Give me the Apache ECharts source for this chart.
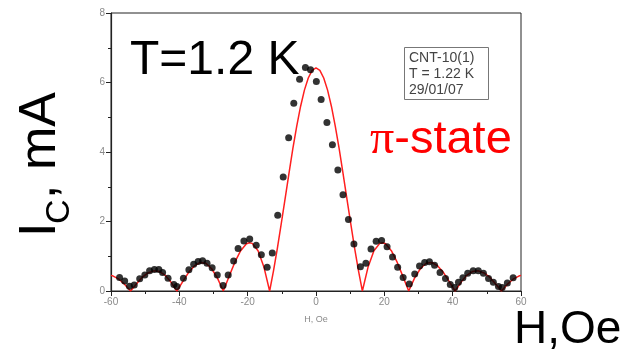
<!DOCTYPE html>
<html>
<head>
<meta charset="utf-8">
<script src="https://cdn.jsdelivr.net/npm/echarts@6/dist/echarts.min.js"></script>
<style>
  html, body { margin: 0; padding: 0; background: #fff; }
  #chart { width: 642px; height: 354px; }
</style>
</head>
<body>
<div id="chart"></div>
<script>
// Fraunhofer-like fit curve: field (Oe) and critical current (mA)
const fitField = [
  -60, -59.37, -57.67, -55.98, -54.28, -52.58, -50.89, -49.19, -47.50, -45.80, -44.10, -42.41,
  -40.71, -39.01, -37.32, -35.62, -33.93, -32.23, -30.53, -28.84, -27.14, -25.44, -23.75, -22.05,
  -20.36, -19.51, -18.66, -16.96, -15.27, -13.57, -12.44, -11.31, -10.18, -9.05, -7.92, -6.79,
  -5.65, -4.52, -3.39, -2.26, -1.13, 0, 1.13, 2.26, 3.39, 4.52, 5.65, 6.79, 7.92, 9.05, 10.18,
  11.31, 12.44, 13.57, 15.27, 16.96, 18.66, 19.51, 20.36, 22.05, 23.75, 25.44, 27.14, 28.84,
  30.53, 32.23, 33.93, 35.62, 37.32, 39.01, 40.71, 42.41, 44.10, 45.80, 47.50, 49.19, 50.89,
  52.58, 54.28, 55.98, 57.67, 59.37, 60
];
const fitIc = [
  0.45, 0.43, 0.34, 0.19, 0, 0.20, 0.39, 0.52, 0.58, 0.56, 0.45, 0.25,
  0, 0.27, 0.53, 0.72, 0.82, 0.80, 0.64, 0.37, 0, 0.42, 0.83, 1.16,
  1.36, 1.39, 1.37, 1.16, 0.70, 0, 0.58, 1.23, 1.93, 2.65, 3.38, 4.09,
  4.74, 5.31, 5.78, 6.13, 6.35, 6.42, 6.35, 6.13, 5.78, 5.31, 4.74, 4.09, 3.38, 2.65, 1.93,
  1.23, 0.58, 0, 0.70, 1.16, 1.37, 1.39, 1.36, 1.16, 0.83, 0.42, 0, 0.37,
  0.64, 0.80, 0.82, 0.72, 0.53, 0.27, 0, 0.25, 0.45, 0.56, 0.58, 0.52, 0.39,
  0.20, 0, 0.19, 0.34, 0.43, 0.45
];

// Measured points
const dataField = [
  -57.5, -56.0, -54.6, -53.2, -51.6, -50.1, -48.7, -47.3, -46.0, -44.9, -43.3, -41.6, -40.7,
  -38.8, -37.2, -35.8, -34.5, -33.2, -31.9, -30.4, -28.9, -27.2, -25.7, -24.1, -22.8, -21.1,
  -19.4, -17.5, -16.0, -14.3, -12.8, -11.2, -9.6, -8.0, -6.5, -4.8, -3.1, -1.6, 0.1, 1.5,
  3.2, 4.8, 6.4, 7.9, 9.5, 11.1, 13.0, 14.6, 16.1, 17.6, 19.2, 20.8, 22.4, 23.9, 25.5,
  27.3, 28.9, 30.3, 31.8, 33.2, 34.7, 36.3, 37.9, 39.3, 40.6, 41.7, 43.0, 44.4, 46.0,
  47.5, 49.0, 50.5, 51.9, 53.4, 54.5, 56.0, 57.7
];
const dataIc = [
  0.39, 0.29, 0.14, 0.17, 0.35, 0.46, 0.58, 0.62, 0.62, 0.53, 0.37, 0.19, 0.13,
  0.37, 0.61, 0.77, 0.85, 0.87, 0.80, 0.67, 0.46, 0.16, 0.46, 0.86, 1.22, 1.44,
  1.50, 1.32, 1.04, 0.68, 1.09, 2.18, 3.28, 4.41, 5.40, 6.09, 6.43, 6.37, 6.03, 5.51,
  4.85, 4.21, 3.48, 2.77, 2.06, 1.35, 0.70, 0.80, 1.21, 1.43, 1.45, 1.27, 0.98, 0.68, 0.39,
  0.20, 0.49, 0.72, 0.82, 0.84, 0.74, 0.53, 0.36, 0.19, 0.10, 0.25, 0.38, 0.51, 0.58,
  0.58, 0.51, 0.36, 0.25, 0.13, 0.10, 0.23, 0.38
];

// Axis ticks
const xTicks = [-60, -40, -20, 0, 20, 40, 60];
const yTicks = [0, 2, 4, 6, 8];

const SANS = '"Liberation Sans", Arial, sans-serif';
const SERIF = '"Liberation Serif", "Times New Roman", serif';
const axisDark = '#222';
const tickGray = '#8a8a8a';

const chart = echarts.init(document.getElementById('chart'), null, { renderer: 'canvas' });

function axisCommon(ticks) {
  return {
    type: 'value',
    min: ticks[0],
    max: ticks[ticks.length - 1],
    interval: ticks[1] - ticks[0],
    axisLine: { show: true, onZero: false, lineStyle: { color: axisDark, width: 1.2 } },
    axisTick: { show: true, length: 5, lineStyle: { color: axisDark, width: 1 } },
    minorTick: { show: true, splitNumber: 2, length: 3, lineStyle: { color: axisDark, width: 1 } },
    splitLine: { show: false },
    minorSplitLine: { show: false },
    axisLabel: { color: tickGray, fontSize: 10, fontFamily: SANS, margin: 6 }
  };
}

chart.setOption({
  animation: false,
  backgroundColor: '#fff',
  grid: {
    left: 111, right: 121, top: 13, bottom: 63,
    show: true, borderColor: axisDark, borderWidth: 1, backgroundColor: 'transparent'
  },
  xAxis: Object.assign(axisCommon(xTicks), {
    name: 'H, Oe',
    nameLocation: 'middle',
    nameGap: 24,
    nameTextStyle: { color: tickGray, fontSize: 9, fontFamily: SANS }
  }),
  yAxis: axisCommon(yTicks),
  series: [
    {
      type: 'line',
      data: fitField.map((h, i) => [h, fitIc[i]]),
      showSymbol: false,
      smooth: false,
      lineStyle: { color: '#ff1f1f', width: 1.5 },
      z: 2,
      silent: true
    },
    {
      type: 'scatter',
      data: dataField.map((h, i) => [h, dataIc[i]]),
      symbol: 'circle',
      symbolSize: 7,
      itemStyle: { color: '#000' },
      z: 3,
      silent: true
    }
  ],
  graphic: [
    // sample info box
    {
      type: 'rect', z: 10,
      shape: { x: 404.5, y: 47.5, width: 84, height: 52 },
      style: { fill: '#fff', stroke: '#777', lineWidth: 1 }
    },
    {
      type: 'text', z: 11, x: 409, y: 58,
      style: { text: 'CNT-10(1)', font: '14px ' + SANS, fill: '#444', verticalAlign: 'middle' }
    },
    {
      type: 'text', z: 11, x: 409, y: 74,
      style: { text: 'T = 1.22 K', font: '14px ' + SANS, fill: '#444', verticalAlign: 'middle' }
    },
    {
      type: 'text', z: 11, x: 409, y: 90,
      style: { text: '29/01/07', font: '14px ' + SANS, fill: '#444', verticalAlign: 'middle' }
    },
    // temperature annotation
    {
      type: 'text', z: 12, x: 130, y: 61,
      style: { text: 'T=1.2 K', font: '48px ' + SANS, fill: '#000', verticalAlign: 'middle' }
    },
    // state label
    {
      type: 'text', z: 12, x: 370, y: 140,
      style: {
        text: '{p|π}{s|-state}',
        verticalAlign: 'middle',
        rich: {
          p: { font: '48px ' + SERIF, fill: '#ff0000' },
          s: { font: '47px ' + SANS, fill: '#ff0000' }
        }
      }
    },
    // big axis titles
    {
      type: 'text', z: 12, x: 514, y: 330,
      style: { text: 'H,Oe', font: '46px ' + SANS, fill: '#000', verticalAlign: 'middle' }
    },
    {
      type: 'text', z: 12, x: 41, y: 237, rotation: Math.PI / 2,
      style: { text: 'I', font: '52px ' + SANS, fill: '#000', verticalAlign: 'middle' }
    },
    {
      type: 'text', z: 12, x: 60, y: 224, rotation: Math.PI / 2,
      style: { text: 'C', font: '34px ' + SANS, fill: '#000', verticalAlign: 'middle' }
    },
    {
      type: 'text', z: 12, x: 41, y: 199, rotation: Math.PI / 2,
      style: { text: ', mA', font: '52px ' + SANS, fill: '#000', verticalAlign: 'middle' }
    }
  ]
});
</script>
</body>
</html>
